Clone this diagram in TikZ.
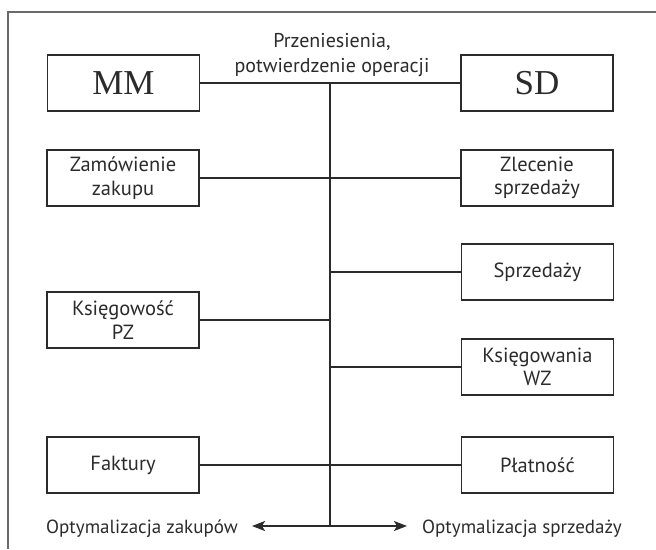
\documentclass[tikz,border=0pt]{standalone}
\usepackage{fontspec}
\setmainfont{PT Sans}
\newfontfamily\mmserif{Liberation Serif}
\usetikzlibrary{arrows.meta}
\definecolor{ink}{HTML}{2B2B2B}
\definecolor{framec}{HTML}{6A6A6A}
\tikzset{
  box/.style={draw=ink, line width=1.4pt, minimum width=152pt, minimum height=56pt, inner sep=0pt, align=center, font=\fontsize{20.5}{23.5}\selectfont, text=ink},
  bigbox/.style={box, font=\mmserif\fontsize{35}{40}\selectfont},
  link/.style={draw=ink, line width=1.7pt},
  lbl/.style={align=center, inner sep=0pt, text=ink, font=\fontsize{20}{24.5}\selectfont},
  blbl/.style={lbl, font=\fontsize{19}{23}\selectfont},
}
\begin{document}
\begin{tikzpicture}[x=1pt,y=-1pt]
\useasboundingbox (0,0) rectangle (656,549);
\draw[framec, line width=1.4pt] (656,12) -- (8,12) -- (8,549);
\node[bigbox] (mm) at (123.5,83) {MM};
\node[bigbox] (sd) at (537,83) {SD};
\node[box] (zam) at (123,178) {Zamówienie\\zakupu};
\node[box] (zle) at (537,178) {Zlecenie\\sprzedaży};
\node[box] (spr) at (537.5,272) {Sprzedaży};
\node[box] (kpz) at (123,320) {Księgowość\\PZ};
\node[box] (kwz) at (537.5,367) {Księgowania\\WZ};
\node[box] (fak) at (123,465) {Faktury};
\node[box] (pla) at (537.5,465) {Płatność};
\node[lbl] (tit) at (332,55) {Przeniesienia,\\potwierdzenie operacji};
\coordinate (top) at (330,83);
\coordinate (bot) at (330,526);
\coordinate (lt) at (252,526);
\coordinate (rt) at (407,526);
\node[blbl, anchor=east] (optz) at (238,529) {Optymalizacja zakupów};
\node[blbl, anchor=west] (opts) at (422,529) {Optymalizacja sprzedaży};
\draw[link] (mm) -- (sd);
\draw[link] (top) -- (bot);
\draw[link] (zam) -- (zle);
\draw[link] (330,272) -- (spr);
\draw[link] (kpz) -- (330,320);
\draw[link] (330,367) -- (kwz);
\draw[link] (fak) -- (pla);
\draw[link, -{Stealth[length=13pt,width=10pt,inset=3pt]}] (bot) -- (lt);
\draw[link, -{Stealth[length=13pt,width=10pt,inset=3pt]}] (bot) -- (rt);
\end{tikzpicture}
\end{document}
